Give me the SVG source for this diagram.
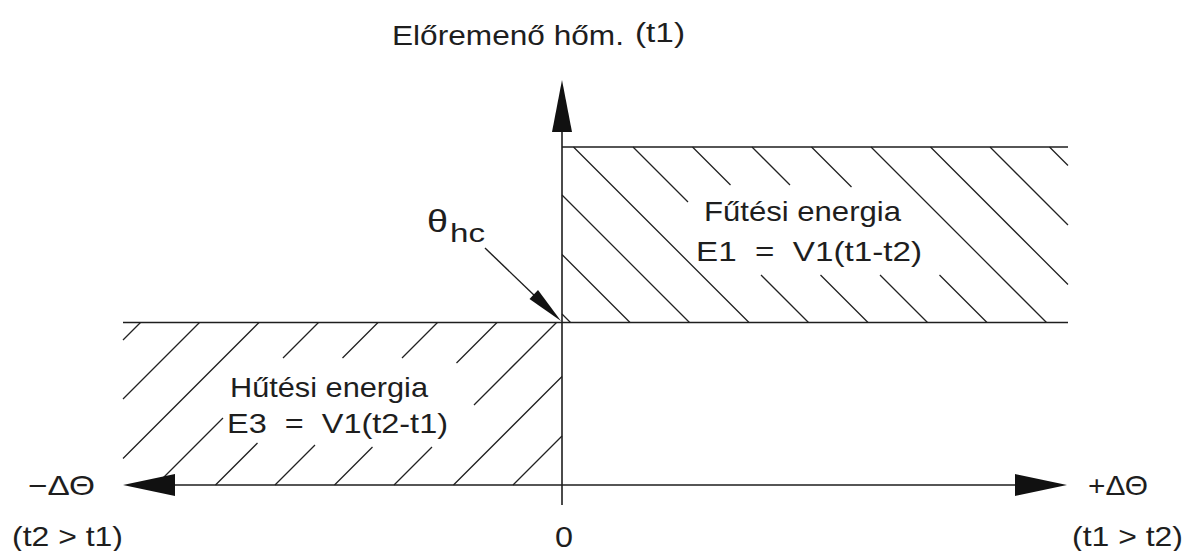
<svg xmlns="http://www.w3.org/2000/svg" width="1186" height="551" viewBox="0 0 1186 551">
<style>
.ax{stroke:#1e1e1e;stroke-width:1.6;fill:none}
.h{stroke:#222;stroke-width:1.3;fill:none}
.ah{fill:#111;stroke:none}
text{font-family:"Liberation Sans",Arial,sans-serif;fill:#1e1e1e}
.t{font-size:28px}
.pre{white-space:pre}
</style>
<rect width="1186" height="551" fill="#fff"/>
<g id="heating-region">
<path class="h" d="M562,314L570.5,322.5M562,254.5L630,322.5M562,195L689.5,322.5M573.5,147L749,322.5M633,147L688,202M761,275L808.5,322.5M692.5,147L730.5,185M820.5,275L868,322.5M752,147L790,185M880,275L927.5,322.5M811.5,147L851.5,187M939.5,275L987,322.5M871,147L1046.5,322.5M930.5,147L1068,284.5M990,147L1068,225M1049.5,147L1068,165.5"/>
<text class="t" x="704" y="221" textLength="197" lengthAdjust="spacingAndGlyphs">Fűtési energia</text>
<text class="t pre" xml:space="preserve" x="696" y="261" textLength="226" lengthAdjust="spacingAndGlyphs">E1  =  V1(t1-t2)</text>
</g>
<g id="cooling-region">
<path class="h" d="M140.5,322.5L123,340M199.5,322.5L123,399M259,322.5L123,458.5M318.5,322.5L283,358M223,418L156,485M378,322.5L342.5,358M257.5,443L215.5,485M437.5,322.5L402,358M315,445L275,485M497,322.5L456.5,363M372.5,447L334.5,485M556.5,322.5L474,405M432,447L394,485M562,376.5L453.5,485M562,436L513,485"/>
<text class="t" x="230" y="397" textLength="198" lengthAdjust="spacingAndGlyphs">Hűtési energia</text>
<text class="t pre" xml:space="preserve" x="227" y="433" textLength="221" lengthAdjust="spacingAndGlyphs">E3  =  V1(t2-t1)</text>
</g>
<g id="connectors">
<line class="ax" x1="123" y1="322.5" x2="1068" y2="322.5"/>
<line class="ax" x1="562" y1="147" x2="1068" y2="147"/>
<line class="ax" x1="562" y1="130" x2="562" y2="505"/>
<line class="ax" x1="173" y1="485" x2="1017" y2="485"/>
<polygon class="ah" points="562,80 552,132 572,132"/>
<polygon class="ah" points="123,485 175,474 175,496"/>
<polygon class="ah" points="1067,485 1015,474 1015,496"/>
<line class="ax" x1="485" y1="248" x2="536" y2="297" style="stroke-width:1.4"/>
<polygon class="ah" points="561,321 529.5,299 538,290"/>
</g>
<g id="labels">
<text class="t" x="392" y="45" textLength="232" lengthAdjust="spacingAndGlyphs">Előremenő hőm.</text>
<text x="635" y="42" font-size="27" textLength="50" lengthAdjust="spacingAndGlyphs">(t1)</text>
<text x="427" y="232" font-size="32" textLength="21" lengthAdjust="spacingAndGlyphs">θ</text>
<text x="450" y="242" font-size="26" textLength="35" lengthAdjust="spacingAndGlyphs">hc</text>
<text class="t" x="28" y="495" textLength="67" lengthAdjust="spacingAndGlyphs">−ΔΘ</text>
<text class="t" x="1088" y="495" textLength="60" lengthAdjust="spacingAndGlyphs">+ΔΘ</text>
<text class="t" x="12" y="546" textLength="111" lengthAdjust="spacingAndGlyphs">(t2 &gt; t1)</text>
<text class="t" x="1072" y="546" textLength="111" lengthAdjust="spacingAndGlyphs">(t1 &gt; t2)</text>
<text x="555" y="547" font-size="29" textLength="18" lengthAdjust="spacingAndGlyphs">0</text>
</g>
</svg>
